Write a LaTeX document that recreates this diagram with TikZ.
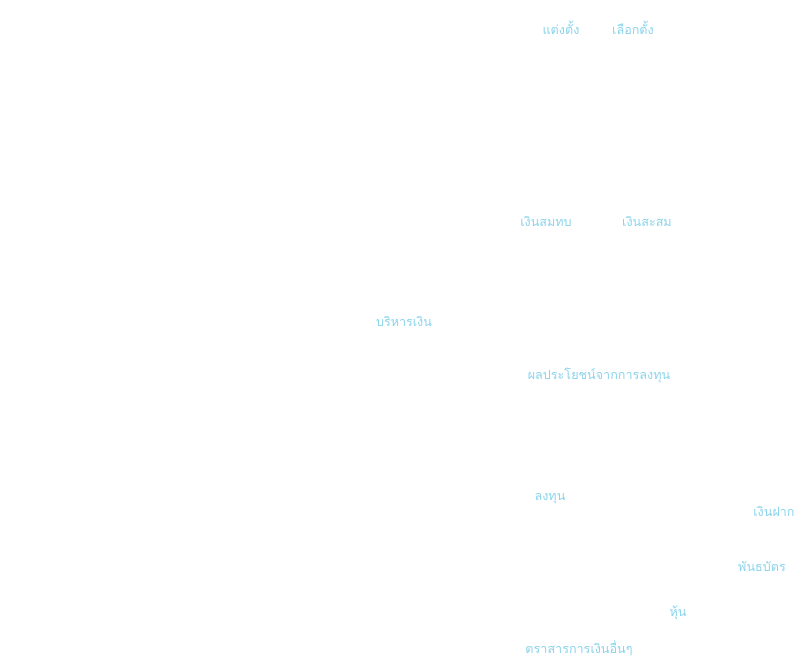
\documentclass[tikz,border=0pt]{standalone}
\usepackage{fontspec}
\newfontfamily\thaifont[Script=Thai]{Loma}
\usepackage{tikz}
\usetikzlibrary{positioning}
\definecolor{lblue}{RGB}{138,212,236}
\tikzset{term/.style={text=lblue, inner sep=0pt, font=\thaifont\fontsize{12.6}{14}\selectfont}}

\begin{document}
\begin{tikzpicture}[x=1pt,y=-1pt]
    \useasboundingbox[fill=white] (0,0) rectangle (796,658);

    \node[term] (tt1) at (561,28) {แต่งตั้ง};
    \node[term] (tt2) at (633,28) {เลือกตั้ง};

    \node[term] (ng1) at (546,221) {เงินสมทบ};
    \node[term] (ng2) at (647,221) {เงินสะสม};

    \node[term] (mgr) at (404,321) {บริหารเงิน};
    \node[term] (ben) at (599,375) {ผลประโยชน์จากการลงทุน};

    \node[term] (inv) at (550,499) {ลงทุน};
    \node[term] (dep) at (774,511) {เงินฝาก};
    \node[term] (bnd) at (762,566) {พันธบัตร};
    \node[term] (stk) at (678,613) {หุ้น};
    \node[term] (oth) at (579,648) {ตราสารการเงินอื่นๆ};

\end{tikzpicture}
\end{document}
